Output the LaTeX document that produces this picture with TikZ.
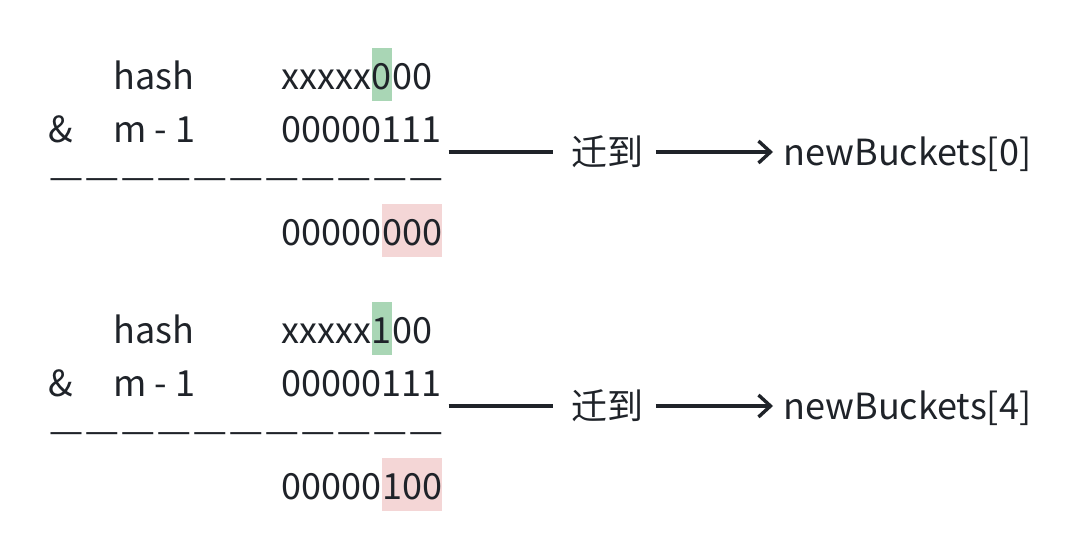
\documentclass[tikz,border=0pt]{standalone}
\usepackage{fontspec}
\setmainfont{Noto Sans CJK SC}
\newfontfamily\rulefont{Liberation Sans}
\usetikzlibrary{arrows.meta}
\definecolor{ink}{HTML}{1F2329}
\definecolor{hlgreen}{HTML}{A9D6B5}
\definecolor{hlred}{HTML}{F4D6D6}
\tikzset{
  word/.style = {inner sep=0, text=ink, text height=18pt, text depth=4pt, anchor=base west},
  bit/.style = {word, text height=21pt, text depth=5.5pt},
  link/.style = {draw=ink, line width=1.7pt}
}
\tikzset{>={Straight Barb[length=6pt,width=11pt]}}
\newcommand\gapdash{\kern2.5pt—}

\begin{document}
\begin{tikzpicture}[x=0.5pt,y=-0.5pt,font=\fontsize{18}{22}\selectfont]
  \useasboundingbox[fill=white] (0,0) rectangle (1082,560);
  % one block per bucket
  \foreach \b/\dy/\hb/\lo/\idx in {a/0/0/000/0, b/254/1/100/4} {
    % hash
    \node[word] (hash\b) at (113,90+\dy) {hash};
    \node[bit] (top\b) at (281,90+\dy) {xxxxx};
    \node[bit,fill=hlgreen] (flag\b) at (top\b.base east) {\hb};
    \node[bit] (rest\b) at (flag\b.base east) {00};
    % mask
    \node[word] (amp\b) at (48,143+\dy) {\&};
    \node[word] (mask\b) at (113,143+\dy) {m - 1};
    \node[word] (ones\b) at (281,143+\dy) {00000111};
    % rule
    \node[word,anchor=base,font=\rulefont\fontsize{15.5}{18}\selectfont] (bar\b) at (246,188+\dy)
      {—\gapdash\gapdash\gapdash\gapdash\gapdash\gapdash\gapdash\gapdash\gapdash\gapdash};
    % result
    \node[bit] (res\b) at (281,246+\dy) {00000};
    \node[bit,fill=hlred] (low\b) at (res\b.base east) {\lo};
    % move
    \node[word] (move\b) at (571,166+\dy) {迁到};
    \node[word] (dest\b) at (783,166+\dy) {newBuckets[\idx]};
    \draw[link,shorten <=3.5pt,shorten >=9pt] (ones\b.east |- move\b.west) -- (move\b.west);
    \draw[link,->,shorten <=6pt,shorten >=5pt] (move\b.east) -- (dest\b.west);
  }
\end{tikzpicture}
\end{document}
